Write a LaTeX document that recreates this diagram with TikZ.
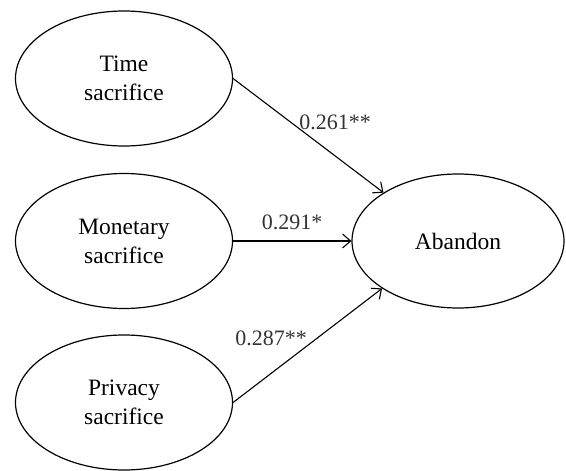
\documentclass[tikz,border=0pt]{standalone}
\usepackage{fontspec}
\setmainfont{Liberation Serif}
\usetikzlibrary{shapes.geometric,arrows.meta}
\begin{document}
\begin{tikzpicture}[x=1pt,y=-1pt,
  latent/.style={ellipse,draw,line width=1.2pt,inner sep=0pt,minimum width=217pt,minimum height=135pt,align=center,font=\fontsize{23.5}{29}\selectfont,text=black},
  path/.style={line width=1.1pt,-{Straight Barb[length=8pt,width=14pt,line width=1.1pt]}},
  coef/.style={font=\fontsize{22}{26}\selectfont,text=black!80,inner sep=0pt}]
\useasboundingbox (0,0) rectangle (566,471);
\node[latent] (time) at (124,78.5) {Time\\sacrifice};
\node[latent] (money) at (124,241) {Monetary\\sacrifice};
\node[latent] (privacy) at (124,402.5) {Privacy\\sacrifice};
\node[latent,minimum width=212pt,minimum height=134pt] (abandon) at (458,241) {Abandon};
\draw[path] (time.east) -- (abandon.147.7);
\draw[path] (money.east) -- (abandon.west);
\draw[path] (privacy.east) -- (abandon.212.3);
\node[coef] (c1) at (335,122) {0.261**};
\node[coef] (c2) at (292,222) {0.291*};
\node[coef] (c3) at (271,338) {0.287**};
\end{tikzpicture}
\end{document}
